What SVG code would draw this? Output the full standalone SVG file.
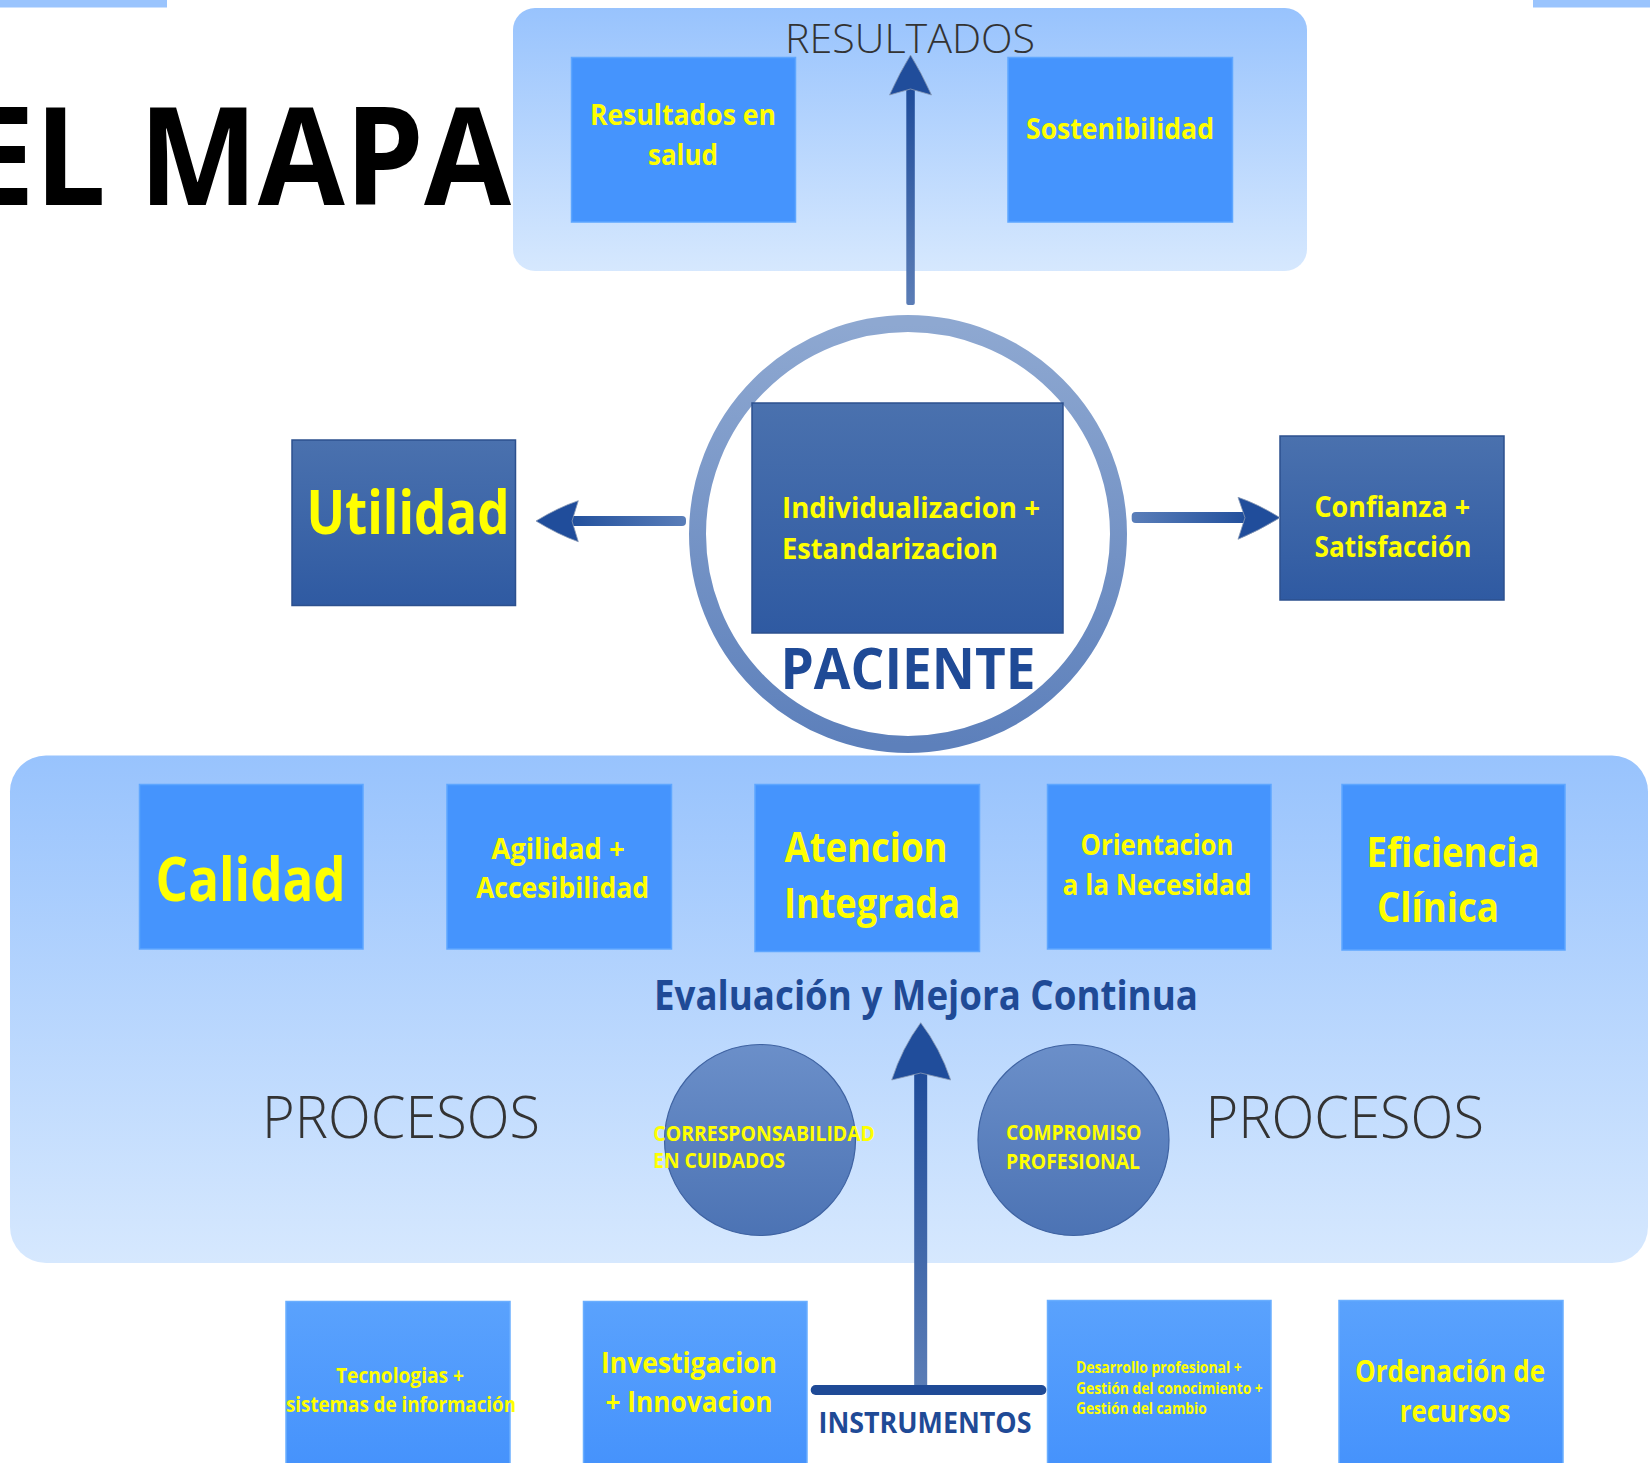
<svg xmlns="http://www.w3.org/2000/svg" width="1650" height="1463" viewBox="0 0 1650 1463">
  <defs>
    <linearGradient id="gPanel" x1="0" y1="0" x2="0" y2="1">
      <stop offset="0" stop-color="#98c3fd"/>
      <stop offset="1" stop-color="#d6e8fe"/>
    </linearGradient>
    <linearGradient id="gLow" x1="0" y1="0" x2="0" y2="1">
      <stop offset="0" stop-color="#5aa2fd"/>
      <stop offset="1" stop-color="#4592fc"/>
    </linearGradient>
    <linearGradient id="gDark" x1="0" y1="0" x2="0" y2="1">
      <stop offset="0" stop-color="#4a71ae"/>
      <stop offset="1" stop-color="#2f5aa2"/>
    </linearGradient>
    <linearGradient id="gRing" x1="0" y1="0" x2="0" y2="1">
      <stop offset="0" stop-color="#8ea8d1"/>
      <stop offset="1" stop-color="#5d80bb"/>
    </linearGradient>
    <linearGradient id="gDisc" x1="0" y1="0" x2="0" y2="1">
      <stop offset="0" stop-color="#6b8fc9"/>
      <stop offset="1" stop-color="#4c73b4"/>
    </linearGradient>
    <linearGradient id="gShaftL" x1="0" y1="0" x2="1" y2="0">
      <stop offset="0" stop-color="#214f9c"/>
      <stop offset="1" stop-color="#5a7eb9"/>
    </linearGradient>
    <linearGradient id="gShaftR" x1="0" y1="0" x2="1" y2="0">
      <stop offset="0" stop-color="#5a7eb9"/>
      <stop offset="1" stop-color="#214f9c"/>
    </linearGradient>
    <linearGradient id="gShaftV" x1="0" y1="0" x2="0" y2="1">
      <stop offset="0" stop-color="#1f4c9a"/>
      <stop offset="1" stop-color="#5b7db6"/>
    </linearGradient>
  </defs>
  <style>
    .panel { fill: url(#gPanel); }
    .box { fill: #4594fd; stroke: #5ea6ff; stroke-width: 1.5; }
    .lowbox { fill: url(#gLow); stroke: #6aaeff; stroke-width: 1.5; }
    .dark { fill: url(#gDark); stroke: #2c508e; stroke-width: 1.5; }
    .disc { fill: url(#gDisc); stroke: #3f63a2; stroke-width: 1.2; }
    .lbl { font-family: "Open Sans", "Noto Sans", "Liberation Sans", sans-serif; font-weight: 700; fill: #ffff00; }
    .mid { text-anchor: middle; }
    .navy { fill: #1f4a96; }
    .thin { font-family: "Open Sans", "Noto Sans", "Liberation Sans", sans-serif; font-weight: 300; fill: #333333; }
    .head { fill: #204d9b; stroke: #8a9bb5; stroke-width: 0.8; }
  </style>

  <!-- page chrome -->
  <rect x="0" y="0" width="167" height="7.5" fill="#9ac4fd"/>
  <rect x="1533" y="0" width="117" height="7.5" fill="#9ac4fd"/>
  <text x="-36" y="205" font-family="'Open Sans', 'Noto Sans', 'Liberation Sans', sans-serif" font-weight="700" font-size="136" textLength="547" lengthAdjust="spacingAndGlyphs" fill="#000000">EL MAPA</text>

  <!-- results panel -->
  <g id="resultados">
    <rect class="panel" x="513" y="8" width="794" height="263" rx="22"/>
    <text class="thin mid" x="910" y="53" font-size="41" textLength="250" lengthAdjust="spacingAndGlyphs">RESULTADOS</text>
  </g>
  <g id="resultados-salud">
    <rect class="box" x="571.5" y="57.5" width="224" height="164.5"/>
    <text class="lbl mid" x="683" y="125" font-size="29" textLength="186" lengthAdjust="spacingAndGlyphs">Resultados en</text>
    <text class="lbl mid" x="683" y="165" font-size="29" textLength="70" lengthAdjust="spacingAndGlyphs">salud</text>
  </g>
  <g id="sostenibilidad">
    <rect class="box" x="1008" y="57.5" width="224.5" height="164.5"/>
    <text class="lbl mid" x="1120" y="139" font-size="29" textLength="188" lengthAdjust="spacingAndGlyphs">Sostenibilidad</text>
  </g>

  <!-- patient core -->
  <g id="paciente">
    <circle cx="908" cy="534" r="210.5" fill="none" stroke="url(#gRing)" stroke-width="17"/>
    <text class="lbl mid navy" x="908" y="689" font-size="58" textLength="255" lengthAdjust="spacingAndGlyphs">PACIENTE</text>
  </g>
  <g id="individualizacion">
    <rect class="dark" x="752" y="403" width="311" height="230"/>
    <text class="lbl" x="782" y="518" font-size="29" textLength="258" lengthAdjust="spacingAndGlyphs">Individualizacion +</text>
    <text class="lbl" x="782" y="559" font-size="29" textLength="216" lengthAdjust="spacingAndGlyphs">Estandarizacion</text>
  </g>
  <g id="utilidad">
    <rect class="dark" x="292" y="440" width="223.5" height="165.5"/>
    <text class="lbl mid" x="408" y="534" font-size="60" textLength="203" lengthAdjust="spacingAndGlyphs">Utilidad</text>
  </g>
  <g id="confianza">
    <rect class="dark" x="1280" y="436" width="224" height="164"/>
    <text class="lbl" x="1314.5" y="516.7" font-size="29" textLength="155.5" lengthAdjust="spacingAndGlyphs">Confianza +</text>
    <text class="lbl" x="1314.5" y="556.7" font-size="29" textLength="157" lengthAdjust="spacingAndGlyphs">Satisfacción</text>
  </g>

  <!-- process panel -->
  <g id="procesos">
    <rect class="panel" x="10" y="755.5" width="1638" height="507.5" rx="36"/>
    <text class="lbl mid navy" x="926" y="1009.6" font-size="41" textLength="544" lengthAdjust="spacingAndGlyphs">Evaluación y Mejora Continua</text>
    <text class="thin" x="262" y="1138" font-size="58" textLength="278" lengthAdjust="spacingAndGlyphs">PROCESOS</text>
    <text class="thin" x="1205.5" y="1138" font-size="58" textLength="278.5" lengthAdjust="spacingAndGlyphs">PROCESOS</text>
  </g>
  <g id="calidad">
    <rect class="box" x="139.5" y="784.5" width="223.5" height="164.5"/>
    <text class="lbl mid" x="250.6" y="900.7" font-size="60" textLength="190" lengthAdjust="spacingAndGlyphs">Calidad</text>
  </g>
  <g id="agilidad">
    <rect class="box" x="447" y="784.5" width="224.5" height="164.5"/>
    <text class="lbl mid" x="558" y="858.5" font-size="29" textLength="133.5" lengthAdjust="spacingAndGlyphs">Agilidad +</text>
    <text class="lbl mid" x="562.5" y="898" font-size="29" textLength="173" lengthAdjust="spacingAndGlyphs">Accesibilidad</text>
  </g>
  <g id="atencion">
    <rect class="box" x="755" y="784.5" width="224.5" height="167"/>
    <text class="lbl mid" x="866" y="862" font-size="41" textLength="163" lengthAdjust="spacingAndGlyphs">Atencion</text>
    <text class="lbl mid" x="872" y="918" font-size="41" textLength="176" lengthAdjust="spacingAndGlyphs">Integrada</text>
  </g>
  <g id="orientacion">
    <rect class="box" x="1047.5" y="784.5" width="223.5" height="164.5"/>
    <text class="lbl mid" x="1157" y="855" font-size="29" textLength="153" lengthAdjust="spacingAndGlyphs">Orientacion</text>
    <text class="lbl mid" x="1157" y="895" font-size="29" textLength="189" lengthAdjust="spacingAndGlyphs">a la Necesidad</text>
  </g>
  <g id="eficiencia">
    <rect class="box" x="1342" y="784.5" width="223" height="165.5"/>
    <text class="lbl mid" x="1453" y="867" font-size="41" textLength="173" lengthAdjust="spacingAndGlyphs">Eficiencia</text>
    <text class="lbl" x="1377" y="922" font-size="41" textLength="122" lengthAdjust="spacingAndGlyphs">Clínica</text>
  </g>
  <g id="corresponsabilidad">
    <circle class="disc" cx="760" cy="1140" r="95.5"/>
    <text class="lbl" x="653.3" y="1140.7" font-size="20.5" textLength="221.7" lengthAdjust="spacingAndGlyphs">CORRESPONSABILIDAD</text>
    <text class="lbl" x="653.3" y="1168.3" font-size="20.5" textLength="131.7" lengthAdjust="spacingAndGlyphs">EN CUIDADOS</text>
  </g>
  <g id="compromiso">
    <circle class="disc" cx="1073.5" cy="1140" r="95.5"/>
    <text class="lbl" x="1006" y="1140" font-size="20.5" textLength="135.5" lengthAdjust="spacingAndGlyphs">COMPROMISO</text>
    <text class="lbl" x="1006" y="1168.6" font-size="20.5" textLength="134" lengthAdjust="spacingAndGlyphs">PROFESIONAL</text>
  </g>

  <!-- instruments -->
  <g id="tecnologias">
    <rect class="lowbox" x="286" y="1301.5" width="224" height="170"/>
    <text class="lbl mid" x="400" y="1383.3" font-size="21" textLength="128" lengthAdjust="spacingAndGlyphs">Tecnologias +</text>
    <text class="lbl mid" x="401" y="1411.7" font-size="21" textLength="230" lengthAdjust="spacingAndGlyphs">sistemas de información</text>
  </g>
  <g id="investigacion">
    <rect class="lowbox" x="583.5" y="1301.5" width="223.5" height="170"/>
    <text class="lbl mid" x="689" y="1372.7" font-size="29" textLength="176" lengthAdjust="spacingAndGlyphs">Investigacion</text>
    <text class="lbl mid" x="689" y="1412" font-size="29" textLength="167" lengthAdjust="spacingAndGlyphs">+ Innovacion</text>
  </g>
  <g id="instrumentos">
    <text class="lbl mid navy" x="925" y="1433.3" font-size="28" textLength="213" lengthAdjust="spacingAndGlyphs">INSTRUMENTOS</text>
  </g>
  <g id="desarrollo">
    <rect class="lowbox" x="1047.5" y="1300.5" width="223.5" height="170"/>
    <text class="lbl" x="1076" y="1373.3" font-size="16" textLength="165.7" lengthAdjust="spacingAndGlyphs">Desarrollo profesional +</text>
    <text class="lbl" x="1076" y="1394" font-size="16" textLength="186.7" lengthAdjust="spacingAndGlyphs">Gestión del conocimiento +</text>
    <text class="lbl" x="1076" y="1414" font-size="16" textLength="130.7" lengthAdjust="spacingAndGlyphs">Gestión del cambio</text>
  </g>
  <g id="ordenacion">
    <rect class="lowbox" x="1339" y="1300.5" width="224" height="170"/>
    <text class="lbl mid" x="1450" y="1381.7" font-size="30" textLength="190" lengthAdjust="spacingAndGlyphs">Ordenación de</text>
    <text class="lbl mid" x="1455" y="1421.7" font-size="30" textLength="110.7" lengthAdjust="spacingAndGlyphs">recursos</text>
  </g>

  <!-- connectors -->
  <g id="connectors">
    <!-- patient up to results -->
    <rect x="906.3" y="88" width="8.5" height="217" rx="2" fill="url(#gShaftV)"/>
    <path class="head" d="M910.5,55 Q921,72 931.5,95 L910.5,89 L889.5,95 Q900,72 910.5,55 Z"/>
    <!-- patient to utility -->
    <rect x="570" y="516" width="116" height="10" rx="4" fill="url(#gShaftL)"/>
    <path class="head" d="M536,521 Q558,507.5 578.3,500.7 L572,521 L578.3,541.7 Q558,534.5 536,521 Z"/>
    <!-- patient to trust -->
    <rect x="1131.7" y="512" width="116" height="11" rx="4" fill="url(#gShaftR)"/>
    <path class="head" d="M1280,517.7 Q1258,504 1238,497.3 L1245,517.7 L1238,539.3 Q1258,531 1280,517.7 Z"/>
    <!-- instruments up to processes -->
    <rect x="914.2" y="1070" width="13" height="318" fill="url(#gShaftV)"/>
    <path class="head" d="M920.7,1022.7 Q940,1048 950.7,1080 L920.7,1073 L891.7,1080 Q902,1048 920.7,1022.7 Z"/>
    <rect x="810.7" y="1385" width="235.7" height="10" rx="5" fill="#1f4a96"/>
  </g>
</svg>
